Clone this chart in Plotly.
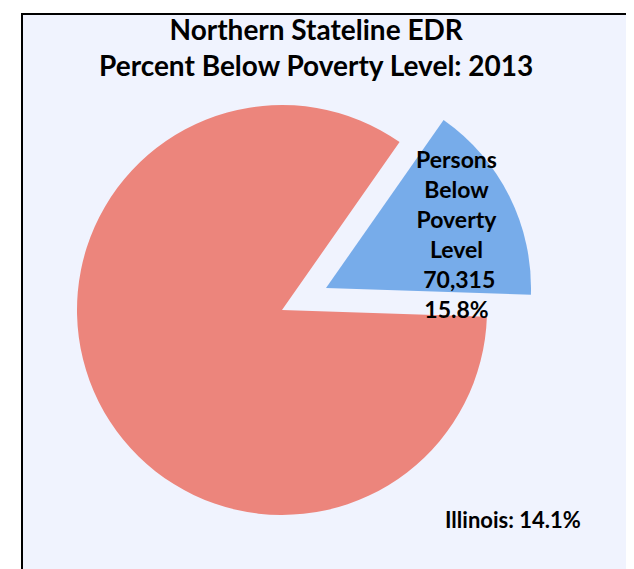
import plotly.graph_objects as go

# Data
labels = ["Persons Below Poverty Level", "Persons At or Above Poverty Level"]
percent = [15.8, 84.2]
persons_below = "70,315"
illinois_rate = "14.1%"
title_lines = ["Northern Stateline EDR", "Percent Below Poverty Level: 2013"]
colors = ["#77ACEA", "#EC857C"]
pulls = [0.24, 0]

W, H = 634, 569
cx, cy, r = 274, 302, 205
half = r * (1 + max(pulls))

fig = go.Figure()
fig.add_trace(go.Pie(
    labels=labels,
    values=percent,
    sort=False,
    direction="clockwise",
    rotation=35,
    pull=pulls,
    marker=dict(colors=colors, line=dict(width=0)),
    textinfo="none",
    hoverinfo="label+percent",
    showlegend=False,
    domain=dict(x=[(cx - half) / W, (cx + half) / W],
                y=[1 - (cy + half) / H, 1 - (cy - half) / H]),
))

font_name = "Lato, 'Open Sans', sans-serif"
fig.add_annotation(
    text="<b>" + "<br>".join(title_lines) + "</b>",
    x=308 / W, y=1 - 39 / H, xref="paper", yref="paper",
    xanchor="center", yanchor="middle", showarrow=False,
    font=dict(family=font_name, size=28, color="black"),
)
fig.add_annotation(
    text="<b>Persons<br>Below<br>Poverty<br>Level<br> " + persons_below + "<br>" + f"{percent[0]}%" + "</b>",
    x=448 / W, y=1 - 226 / H, xref="paper", yref="paper",
    xanchor="center", yanchor="middle", showarrow=False,
    font=dict(family=font_name, size=23, color="black"),
)
fig.add_annotation(
    text="<b>Illinois: " + illinois_rate + "</b>",
    x=505 / W, y=1 - 511 / H, xref="paper", yref="paper",
    xanchor="center", yanchor="middle", showarrow=False,
    font=dict(family=font_name, size=22, color="black"),
)

fig.update_layout(
    width=W, height=H,
    margin=dict(l=0, r=0, t=0, b=0),
    paper_bgcolor="white",
    plot_bgcolor="white",
    shapes=[dict(type="rect", xref="paper", yref="paper", layer="below",
                 x0=14 / W, x1=1.02, y0=-0.02, y1=1 - 6 / H,
                 fillcolor="#F0F3FE", line=dict(color="black", width=2))],
)

fig.write_html("out.html")
